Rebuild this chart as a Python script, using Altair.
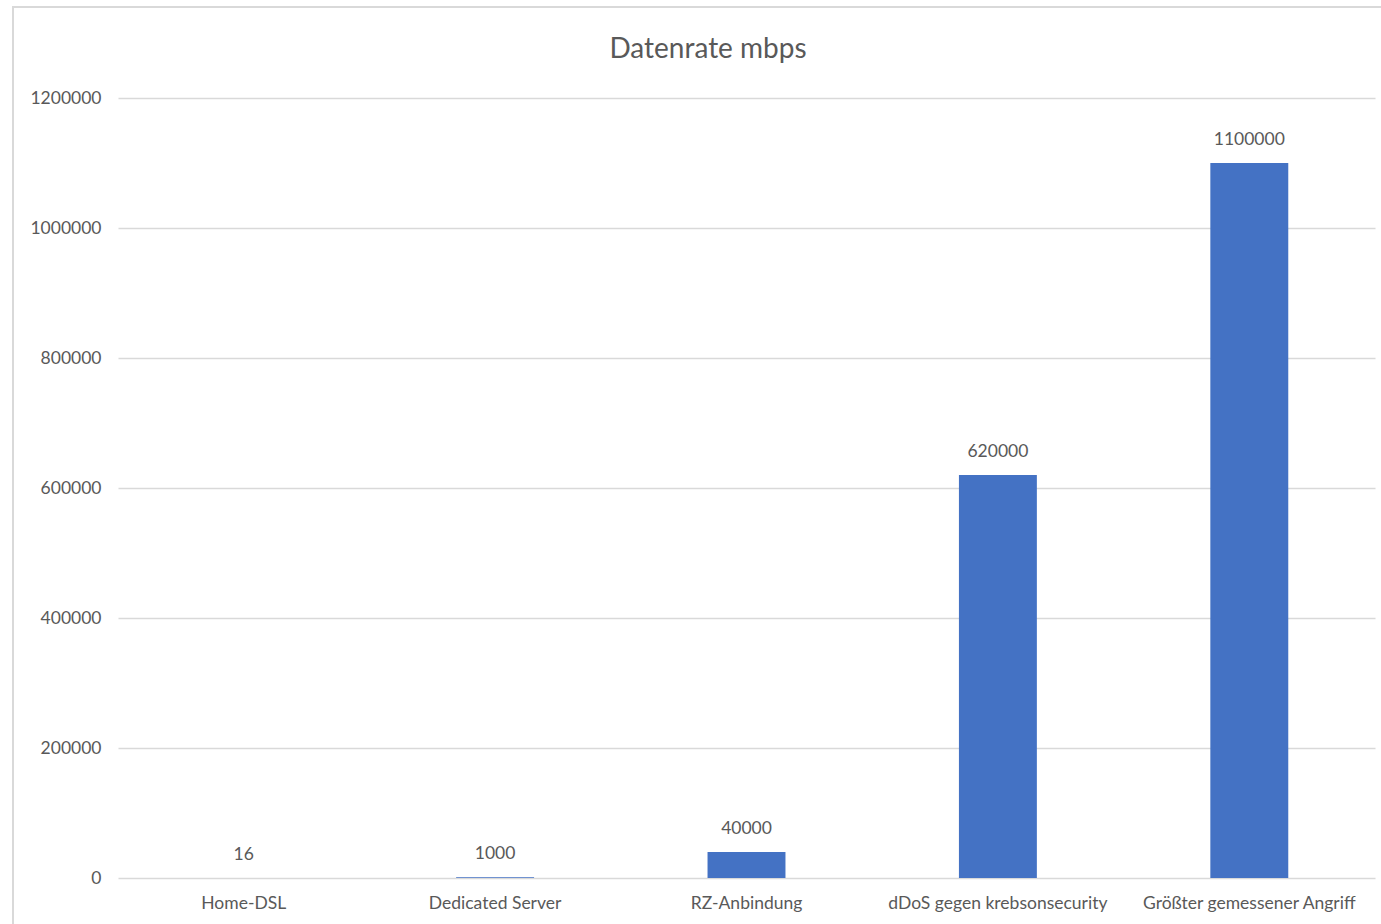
import altair as alt
import pandas as pd

categories = ["Home-DSL", "Dedicated Server", "RZ-Anbindung", "dDoS gegen krebsonsecurity", "Größter gemessener Angriff"]
values = [16, 1000, 40000, 620000, 1100000]
y_ticks = [0, 200000, 400000, 600000, 800000, 1000000, 1200000]
title_text = "Datenrate mbps"

df = pd.DataFrame({"cat": categories, "val": values})

FONT = "Lato"
GRAY = "#595959"
FS = 17.5

x = alt.X("cat:N", sort=categories, title=None,
          scale=alt.Scale(paddingInner=0.69, paddingOuter=0.345),
          axis=alt.Axis(labelAngle=0, labelFont=FONT, labelFontSize=FS, labelColor=GRAY,
                        domain=False, ticks=False, labelPadding=16, grid=False, labelLimit=0))
y = alt.Y("val:Q", title=None,
          scale=alt.Scale(domain=[0, 1200000], nice=False),
          axis=alt.Axis(values=y_ticks, format="d", labelFont=FONT, labelFontSize=FS, labelColor=GRAY,
                        domain=False, ticks=False, labelPadding=17, gridColor="#d9d9d9", gridWidth=1.5))

frame = alt.Chart(pd.DataFrame({"a": [0]})).mark_rect(
    fill=None, stroke="#d9d9d9", strokeWidth=2, clip=False
).encode(x=alt.value(-105), x2=alt.value(1300), y=alt.value(-91), y2=alt.value(900))

title = alt.Chart(pd.DataFrame({"t": [title_text]})).mark_text(
    font=FONT, fontSize=28, color=GRAY, align="center", baseline="middle"
).encode(x=alt.value(590), y=alt.value(-48), text="t:N")

bars = alt.Chart(df).mark_bar(color="#4472C4").encode(x=x, y=y)
labels = alt.Chart(df).mark_text(
    font=FONT, fontSize=FS, color=GRAY, baseline="alphabetic", dy=-18
).encode(x=alt.X("cat:N", sort=categories), y="val:Q", text=alt.Text("val:Q", format="d"))

chart = alt.layer(frame, title, bars, labels).properties(
    width=1257, height=780,
    autosize=alt.AutoSizeParams(type="none"),
    padding={"left": 118, "top": 98, "right": 6, "bottom": 46},
).configure(background="white").configure_view(stroke=None)

chart.save("out.html", embed_options={"renderer": "svg", "actions": False})
